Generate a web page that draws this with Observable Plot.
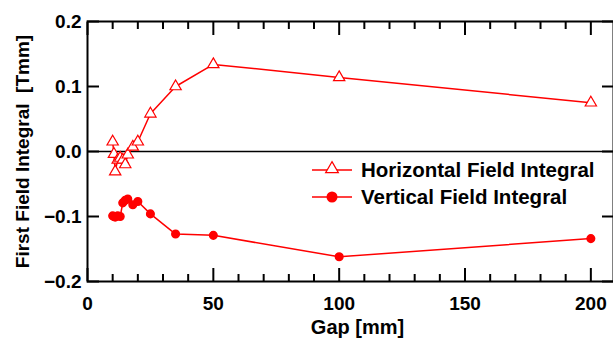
<!DOCTYPE html>
<html>
<head>
<meta charset="utf-8">
<script src="https://cdn.jsdelivr.net/npm/d3@7"></script>
<script src="https://cdn.jsdelivr.net/npm/@observablehq/plot@0.6"></script>
<style>
  html, body { margin: 0; padding: 0; background: #fff; }
  #wrap { position: relative; width: 613px; height: 347px; overflow: hidden; }
  #legend { position: absolute; left: 0; top: 0; }
</style>
</head>
<body>
<div id="wrap"></div>
<script>
const gaps = [10, 10.5, 11, 12, 13, 14, 15, 16, 18, 20, 25, 35, 50, 100, 200];
const horizontal = [0.015, -0.004, -0.031, -0.013, -0.010, -0.013, -0.020, -0.005, 0.007, 0.015, 0.058, 0.100, 0.134, 0.114, 0.075];
const vertical = [-0.099, -0.100, -0.101, -0.099, -0.100, -0.079, -0.075, -0.073, -0.082, -0.077, -0.096, -0.127, -0.129, -0.162, -0.134];
const xMajorTicks = [0, 50, 100, 150, 200];
const xMinorTicks = [10, 20, 30, 40, 60, 70, 80, 90, 110, 120, 130, 140, 160, 170, 180, 190];
const yTicks = [-0.2, -0.1, 0.0, 0.1, 0.2];
const seriesNames = ["Horizontal Field Integral", "Vertical Field Integral"];
const xTitle = "Gap [mm]";
const yTitle = "First Field Integral  [Tmm]";

const hData = gaps.map((g, i) => ({gap: g, value: horizontal[i]}));
const vData = gaps.map((g, i) => ({gap: g, value: vertical[i]}));

const font = "'Liberation Sans', Arial, sans-serif";
const red = "#ff0000";

const chart = Plot.plot({
  width: 613,
  height: 347,
  marginLeft: 87,
  marginRight: 0,
  marginTop: 21,
  marginBottom: 66,
  style: {fontFamily: font, fontSize: "19px", fontWeight: "bold", color: "#000", background: "#fff", overflow: "visible"},
  x: {domain: [0, 209]},
  y: {domain: [-0.2, 0.2]},
  marks: [
    Plot.ruleY([0], {stroke: "#000", strokeWidth: 1.6}),
    Plot.line(hData, {x: "gap", y: "value", stroke: red, strokeWidth: 1.5}),
    Plot.line(vData, {x: "gap", y: "value", stroke: red, strokeWidth: 1.5}),
    Plot.dot(hData, {x: "gap", y: "value", symbol: "triangle", r: 4.2, fill: "#fff", stroke: red, strokeWidth: 1.2}),
    Plot.dot(vData, {x: "gap", y: "value", r: 3.8, fill: red, stroke: red}),
    // inward ticks: outward ticks shifted back inside by their own length
    Plot.axisX(xMajorTicks, {anchor: "bottom", tickSize: 13, dy: -13, strokeWidth: 2, text: null, label: null}),
    Plot.axisX(xMinorTicks, {anchor: "bottom", tickSize: 7, dy: -7, strokeWidth: 2, text: null, label: null}),
    Plot.axisX(xMajorTicks, {anchor: "top", tickSize: 13, dy: 13, strokeWidth: 2, text: null, label: null}),
    Plot.axisX(xMinorTicks, {anchor: "top", tickSize: 7, dy: 7, strokeWidth: 2, text: null, label: null}),
    Plot.axisY(yTicks, {anchor: "left", tickSize: 12, dx: 12, strokeWidth: 2, text: null, label: null}),
    Plot.axisY(yTicks, {anchor: "right", tickSize: 12, dx: -12, strokeWidth: 2, text: null, label: null}),
    // tick labels
    Plot.axisX(xMajorTicks, {anchor: "bottom", tickSize: 0, tickPadding: 15, label: null, fontSize: 19, fontWeight: "bold", fill: "#000"}),
    Plot.axisY(yTicks, {anchor: "left", tickSize: 0, tickPadding: 6, label: null, tickFormat: d3.format(".1f"), fontSize: 19, fontWeight: "bold", fill: "#000"}),
    Plot.frame({stroke: "#000", strokeWidth: 2}),
    // titles
    Plot.text([xTitle], {frameAnchor: "bottom", dx: 7, dy: 52, text: d => d, fontSize: 20, fontWeight: "bold", fill: "#000"}),
    Plot.text([yTitle], {frameAnchor: "left", dx: -65, rotate: -90, textAnchor: "middle", text: d => d, fontSize: 19, fontWeight: "bold", fill: "#000"})
  ]
});
document.getElementById("wrap").appendChild(chart);

// legend overlay
const ns = "http://www.w3.org/2000/svg";
const leg = document.createElementNS(ns, "svg");
leg.setAttribute("id", "legend");
leg.setAttribute("width", 613);
leg.setAttribute("height", 347);
const rows = [
  {name: seriesNames[0], y: 170, symbol: "triangle"},
  {name: seriesNames[1], y: 197, symbol: "circle"}
];
rows.forEach(r => {
  const line = document.createElementNS(ns, "line");
  line.setAttribute("x1", 312); line.setAttribute("x2", 352);
  line.setAttribute("y1", r.y); line.setAttribute("y2", r.y);
  line.setAttribute("stroke", red); line.setAttribute("stroke-width", 1.5);
  leg.appendChild(line);
  if (r.symbol === "triangle") {
    const p = document.createElementNS(ns, "path");
    p.setAttribute("d", d3.symbol(d3.symbolTriangle, 70)());
    p.setAttribute("transform", `translate(332,${r.y - 1})`);
    p.setAttribute("fill", "#fff"); p.setAttribute("stroke", red); p.setAttribute("stroke-width", 1.2);
    leg.appendChild(p);
  } else {
    const c = document.createElementNS(ns, "circle");
    c.setAttribute("cx", 332); c.setAttribute("cy", r.y); c.setAttribute("r", 5.5);
    c.setAttribute("fill", red);
    leg.appendChild(c);
  }
  const t = document.createElementNS(ns, "text");
  t.setAttribute("x", 361); t.setAttribute("y", r.y);
  t.setAttribute("dy", "0.35em");
  t.setAttribute("font-family", font);
  t.setAttribute("font-size", 20.5);
  t.setAttribute("font-weight", "bold");
  t.setAttribute("fill", "#000");
  t.textContent = r.name;
  leg.appendChild(t);
});
document.getElementById("wrap").appendChild(leg);
</script>
</body>
</html>
